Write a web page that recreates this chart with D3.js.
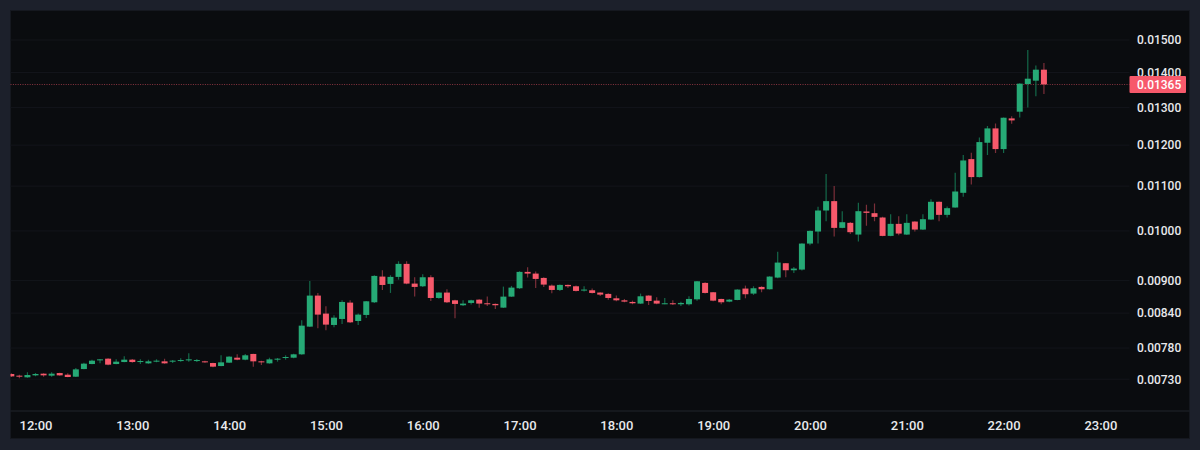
<!DOCTYPE html>
<html lang="en">
<head>
<meta charset="UTF-8">
<title>Candlestick chart</title>
<script src="https://d3js.org/d3.v7.min.js"></script>
<style>
    html, body { margin: 0; padding: 0; background: #1c202b; overflow: hidden; }
    text { font-family: Roboto, sans-serif; fill: #e8e9ec; font-weight: 500; }
    .y-axis text { font-size: 12px; }
    .x-axis text { font-size: 13px; }
    .domain, .tick line { display: none; }
    .grid line { stroke: #13151b; stroke-width: 1; }
</style>
</head>
<body>
<div id="chart"></div>
<script>
// 5 minute candles, starting at firstCandle
var firstCandle = "11:45";
var timeLabels = ["12:00","13:00","14:00","15:00","16:00","17:00","18:00","19:00","20:00","21:00","22:00","23:00"];
var priceTicks = [0.015, 0.014, 0.013, 0.012, 0.011, 0.010, 0.009, 0.0084, 0.0078, 0.0073];
var lastPrice = 0.01365;

var opens = [
    0.007381,0.007355,0.007329,0.007360,0.007386,0.007355,0.007396,0.007370,0.007339,0.007459,
    0.007539,0.007598,0.007625,0.007539,0.007571,0.007609,0.007571,0.007550,0.007577,0.007582,
    0.007577,0.007587,0.007598,0.007587,0.007582,0.007555,0.007507,0.007561,0.007641,0.007609,
    0.007702,0.007582,0.007550,0.007609,0.007636,0.007641,0.007696,0.008162,0.008718,0.008391,
    0.008191,0.008296,0.008589,0.008260,0.008367,0.008595,0.009077,0.008937,0.009071,0.009325,
    0.008943,0.008892,0.009064,0.008674,0.008774,0.008631,0.008541,0.008583,0.008643,0.008577,
    0.008565,0.008498,0.008699,0.008855,0.009168,0.009135,0.009051,0.008905,0.008823,0.008918,
    0.008892,0.008817,0.008817,0.008774,0.008749,0.008668,0.008631,0.008601,0.008571,0.008718,
    0.008625,0.008565,0.008577,0.008559,0.008559,0.008649,0.008956,0.008780,0.008656,0.008607,
    0.008637,0.008849,0.008755,0.008880,0.008836,0.009058,0.009338,0.009200,0.009213,0.009736,
    0.009988,0.010444,0.010654,0.010066,0.010174,0.009924,0.010422,0.010385,0.010290,0.009896,
    0.010152,0.009924,0.010202,0.010030,0.010246,0.010639,0.010348,0.010511,0.010844,0.011648,
    0.011212,0.012060,0.012433,0.011899,0.012700,0.012882,0.013662,0.013759,0.014084
];
var highs = [
    0.007391,0.007370,0.007407,0.007396,0.007391,0.007407,0.007402,0.007391,0.007475,0.007561,
    0.007609,0.007620,0.007631,0.007614,0.007663,0.007620,0.007614,0.007609,0.007614,0.007625,
    0.007603,0.007631,0.007712,0.007620,0.007593,0.007561,0.007680,0.007663,0.007696,0.007702,
    0.007707,0.007593,0.007641,0.007636,0.007680,0.007707,0.008272,0.008993,0.008767,0.008522,
    0.008361,0.008631,0.008631,0.008391,0.008619,0.009103,0.009200,0.009103,0.009377,0.009377,
    0.009064,0.009122,0.009103,0.008780,0.008836,0.008643,0.008631,0.008643,0.008649,0.008699,
    0.008571,0.008886,0.008899,0.009181,0.009259,0.009174,0.009064,0.008924,0.008924,0.008924,
    0.008905,0.008892,0.008849,0.008780,0.008761,0.008718,0.008656,0.008625,0.008755,0.008724,
    0.008687,0.008674,0.008631,0.008607,0.008705,0.008993,0.008968,0.008786,0.008662,0.008656,
    0.008836,0.008905,0.008892,0.008892,0.009083,0.009568,0.009344,0.009266,0.009743,0.010009,
    0.010526,0.011283,0.011000,0.010429,0.010195,0.010616,0.010571,0.010601,0.010304,0.010363,
    0.010319,0.010363,0.010209,0.010363,0.010699,0.010646,0.010534,0.011315,0.011748,0.011806,
    0.012198,0.012495,0.012566,0.012727,0.012755,0.013681,0.014685,0.014211,0.014285
];
var lows = [
    0.007334,0.007313,0.007324,0.007344,0.007339,0.007339,0.007355,0.007329,0.007334,0.007454,
    0.007534,0.007550,0.007518,0.007534,0.007566,0.007561,0.007539,0.007545,0.007566,0.007545,
    0.007555,0.007577,0.007577,0.007571,0.007561,0.007486,0.007502,0.007555,0.007598,0.007598,
    0.007497,0.007523,0.007545,0.007577,0.007609,0.007631,0.007691,0.008156,0.008132,0.008098,
    0.008150,0.008208,0.008226,0.008191,0.008314,0.008583,0.008823,0.008767,0.009019,0.008930,
    0.008699,0.008880,0.008619,0.008662,0.008583,0.008308,0.008529,0.008553,0.008498,0.008529,
    0.008474,0.008492,0.008693,0.008842,0.009058,0.008861,0.008880,0.008761,0.008805,0.008861,
    0.008792,0.008792,0.008755,0.008712,0.008643,0.008613,0.008595,0.008559,0.008565,0.008547,
    0.008559,0.008559,0.008547,0.008529,0.008535,0.008625,0.008755,0.008613,0.008559,0.008595,
    0.008631,0.008668,0.008730,0.008780,0.008830,0.009045,0.009064,0.009148,0.009194,0.009702,
    0.009736,0.010209,0.009882,0.010059,0.009938,0.009778,0.010109,0.010209,0.009889,0.009889,
    0.009910,0.009917,0.009988,0.010023,0.010238,0.010209,0.010290,0.010504,0.010752,0.011038,
    0.011204,0.011748,0.011798,0.011798,0.012557,0.012727,0.013000,0.013308,0.013374
];
var closes = [
    0.007344,0.007339,0.007365,0.007381,0.007360,0.007386,0.007360,0.007334,0.007454,0.007545,
    0.007593,0.007614,0.007529,0.007577,0.007609,0.007571,0.007587,0.007582,0.007593,0.007550,
    0.007593,0.007603,0.007614,0.007603,0.007571,0.007497,0.007566,0.007658,0.007609,0.007680,
    0.007582,0.007571,0.007614,0.007625,0.007652,0.007696,0.008179,0.008718,0.008373,0.008197,
    0.008319,0.008601,0.008237,0.008373,0.008613,0.009090,0.008917,0.009071,0.009325,0.008943,
    0.008880,0.009064,0.008674,0.008774,0.008595,0.008565,0.008571,0.008631,0.008571,0.008559,
    0.008541,0.008699,0.008867,0.009168,0.009135,0.009032,0.008924,0.008823,0.008918,0.008892,
    0.008805,0.008830,0.008767,0.008736,0.008674,0.008631,0.008607,0.008577,0.008705,0.008619,
    0.008571,0.008577,0.008559,0.008583,0.008656,0.008987,0.008767,0.008625,0.008595,0.008643,
    0.008830,0.008743,0.008855,0.008836,0.009077,0.009351,0.009200,0.009233,0.009736,0.010002,
    0.010444,0.010654,0.010066,0.010188,0.009974,0.010429,0.010392,0.010304,0.009896,0.010152,
    0.009945,0.010174,0.010030,0.010253,0.010639,0.010348,0.010496,0.010874,0.011615,0.011212,
    0.012077,0.012433,0.011899,0.012718,0.012646,0.013672,0.013817,0.014084,0.013650
];

var width = 1200, height = 450;
var panel = {left: 10.5, top: 10.5, right: 1189.5, bottom: 438.5};
var plotRight = 1129.5, plotBottom = 411;
var upColor = "#26aa76", downColor = "#f7596b", upWick = "#14694a", downWick = "#7b2f39";
var barWidth = 6;

var parseTime = d3.utcParse("%H:%M");

var x = d3.scaleUtc()
    .domain([parseTime("12:00"), parseTime("23:00")])
    .range([35.5, 1100.4]);

var y = d3.scaleLog()
    .domain([0.0073, 0.015])
    .range([379.2, 40]);

var times = d3.range(opens.length).map(function(i) {
    return d3.utcMinute.offset(parseTime(firstCandle), i * 5);
});

var svg = d3.select("#chart").append("svg")
    .attr("width", width)
    .attr("height", height)
    .style("display", "block");

svg.append("rect")
    .attr("x", panel.left)
    .attr("y", panel.top)
    .attr("width", panel.right - panel.left)
    .attr("height", panel.bottom - panel.top)
    .attr("fill", "#0a0c0f")
    .attr("stroke", "#15181f");

svg.append("clipPath").attr("id", "plot-clip")
    .append("rect")
    .attr("x", panel.left)
    .attr("y", panel.top)
    .attr("width", plotRight - panel.left)
    .attr("height", plotBottom - panel.top);

// horizontal grid at the price ticks
svg.append("g").attr("class", "grid")
    .selectAll("line")
    .data(priceTicks)
    .join("line")
    .attr("x1", panel.left)
    .attr("x2", plotRight)
    .attr("y1", function(d) { return y(d); })
    .attr("y2", function(d) { return y(d); });

// bottom axis separator
svg.append("line")
    .attr("x1", panel.left).attr("x2", panel.right)
    .attr("y1", plotBottom).attr("y2", plotBottom)
    .attr("stroke", "#20242d");

// dotted last price line, snapped to a pixel row so the dots stay visible
svg.append("line")
    .attr("x1", panel.left).attr("x2", plotRight)
    .attr("y1", Math.floor(y(lastPrice)) + 0.5).attr("y2", Math.floor(y(lastPrice)) + 0.5)
    .attr("stroke", "#8a3540")
    .attr("stroke-dasharray", "1,1.4");

var candles = svg.append("g").attr("clip-path", "url(#plot-clip)")
    .selectAll("g")
    .data(opens)
    .join("g");

candles.append("line")
    .attr("x1", function(d, i) { return x(times[i]); })
    .attr("x2", function(d, i) { return x(times[i]); })
    .attr("y1", function(d, i) { return y(highs[i]); })
    .attr("y2", function(d, i) { return y(lows[i]); })
    .attr("stroke", function(d, i) { return closes[i] >= opens[i] ? upWick : downWick; })
    .attr("stroke-width", 1.2);

candles.append("rect")
    .attr("x", function(d, i) { return x(times[i]) - barWidth / 2; })
    .attr("y", function(d, i) { return y(Math.max(opens[i], closes[i])); })
    .attr("width", barWidth)
    .attr("height", function(d, i) { return Math.max(1, Math.abs(y(opens[i]) - y(closes[i]))); })
    .attr("fill", function(d, i) { return closes[i] >= opens[i] ? upColor : downColor; });

var xAxis = d3.axisBottom(x)
    .tickValues(timeLabels.map(parseTime))
    .tickFormat(d3.utcFormat("%H:%M"))
    .tickSize(0)
    .tickPadding(0);

svg.append("g").attr("class", "x-axis")
    .attr("transform", "translate(0," + 420.5 + ")")
    .call(xAxis);

var yAxis = d3.axisRight(y)
    .tickValues(priceTicks)
    .tickFormat(d3.format(".5f"))
    .tickSize(0)
    .tickPadding(0);

svg.append("g").attr("class", "y-axis")
    .attr("transform", "translate(1137,0)")
    .call(yAxis);

// last price badge
svg.append("rect")
    .attr("x", plotRight)
    .attr("y", 76)
    .attr("width", 56.5)
    .attr("height", 17)
    .attr("rx", 1)
    .attr("fill", "#f7596b");

svg.append("text")
    .attr("x", 1137)
    .attr("y", y(lastPrice))
    .attr("dy", "0.35em")
    .style("font-size", "12px")
    .style("fill", "#ffffff")
    .text(d3.format(".5f")(lastPrice));
</script>
</body>
</html>
